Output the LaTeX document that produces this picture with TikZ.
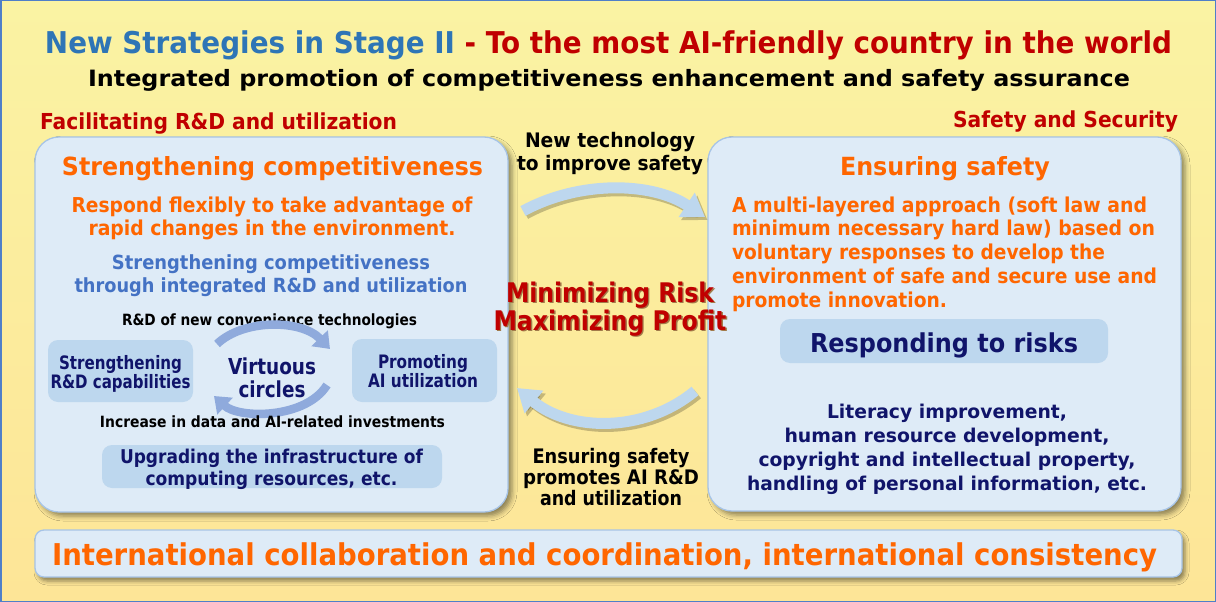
\documentclass[tikz,border=0pt]{standalone}
\usepackage{fontspec}
\setmainfont{DejaVu Sans}
\usepackage{graphicx}
\usetikzlibrary{arrows.meta,shadows.blur}

\definecolor{bgtop}{HTML}{FAF3A3}
\definecolor{bgbot}{HTML}{FDE597}
\definecolor{framecol}{HTML}{4F7FC8}
\definecolor{titleblue}{HTML}{2E75B6}
\definecolor{darkred}{HTML}{C00000}
\definecolor{redshade}{HTML}{A27A4A}
\definecolor{hotorange}{HTML}{FF6600}
\definecolor{midblue}{HTML}{4472C4}
\definecolor{navy}{HTML}{10146A}
\definecolor{boxfill}{HTML}{DEEBF7}
\definecolor{boxline}{HTML}{A7C4E6}
\definecolor{tilefill}{HTML}{BDD7EE}
\definecolor{cyclearrow}{HTML}{8FAADC}
\definecolor{bridgearrow}{HTML}{BDD7EE}

% set a line of text to an exact width by scaling it horizontally
\newsavebox\fitbox
\newcommand\fitw[2]{\sbox\fitbox{#2}\pgfmathsetmacro\fitratio{#1/\the\wd\fitbox}\scalebox{\fitratio}[1]{\usebox\fitbox}}
% stacked lines, baseline on the first line, fixed line pitch
\newcommand\cstack[1]{\vtop{\lineskiplimit=-1000pt\lineskip=0pt\halign{\hfil##\hfil\cr#1\crcr}}}
\newcommand\lstack[1]{\vtop{\lineskiplimit=-1000pt\lineskip=0pt\halign{##\hfil\cr#1\crcr}}}
\newcommand\fs[2]{\fontsize{#1}{#2}\selectfont}
% text with a soft offset shade behind it
\newcommand\shaded[1]{\rlap{\raisebox{-1.6pt}{\hspace{1.6pt}\textcolor{redshade}{#1}}}#1}

\begin{document}
\begin{tikzpicture}[x=1pt,y=-1pt,
  txt/.style={inner sep=0pt, outer sep=0pt, anchor=base},
  panel/.style={draw=boxline, line width=1.3pt, fill=boxfill, rounded corners=24pt,
    blur shadow={shadow xshift=4pt, shadow yshift=-4pt, shadow blur radius=5pt, shadow opacity=45}},
  band/.style={draw=boxline, line width=1.3pt, fill=boxfill, rounded corners=9pt,
    blur shadow={shadow xshift=3pt, shadow yshift=-4pt, shadow blur radius=4pt, shadow opacity=45}},
  tile/.style={fill=tilefill, rounded corners=10pt, inner sep=0pt},
  cycle/.style={draw=cyclearrow, line width=8.5pt, -{Triangle[width=22pt,length=15pt]}},
  bridge/.style={draw=bridgearrow, line width=11pt, -{Triangle[width=28pt,length=22pt]}},
  bridgeshadow/.style={draw=black, opacity=0.22, line width=11pt, -{Triangle[width=28pt,length=22pt]}},
]
\useasboundingbox (0,0) rectangle (1216,602);

% background
\shade[top color=bgtop, bottom color=bgbot] (0,0) rectangle (1216,602);
\draw[framecol, line width=1.5pt] (0.75,0.75) rectangle (1215.25,601.25);

% headings
\node[txt, font=\bfseries\fs{30}{34}] (title) at (608.5,54)
  {\fitw{1127}{\textcolor{titleblue}{New Strategies in Stage II} \textcolor{darkred}{- To the most AI-friendly country in the world}}};
\node[txt, font=\bfseries\fs{22.5}{26}] (subtitle) at (609,87)
  {\fitw{1042}{Integrated promotion of competitiveness enhancement and safety assurance}};
\node[txt, anchor=base west, text=darkred, font=\bfseries\fs{22}{26}] (leftlabel) at (40,129)
  {\fitw{357}{Facilitating R\&D and utilization}};
\node[txt, anchor=base east, text=darkred, font=\bfseries\fs{22}{26}] (rightlabel) at (1178,127)
  {\fitw{225}{Safety and Security}};

% panels
\node[panel, minimum width=473pt, minimum height=375pt] (leftpanel) at (271.5,324.5) {};
\node[panel, minimum width=473pt, minimum height=374pt] (rightpanel) at (944.5,324) {};
\node[band, minimum width=1147pt, minimum height=47pt] (bottomband) at (608.5,553.5) {};

% left panel
\node[txt, text=hotorange, font=\bfseries\fs{25}{30}] (lefthead) at (272.5,175)
  {\fitw{421}{Strengthening competitiveness}};
\node[txt, text=hotorange, font=\bfseries\fs{20.5}{23}] (leftlead) at (272,212)
  {\cstack{\fitw{401}{Respond flexibly to take advantage of}\cr\fitw{367}{rapid changes in the environment.}}};
\node[txt, text=midblue, font=\bfseries\fs{19.5}{23}] (leftsub) at (271,269)
  {\cstack{\fitw{318}{Strengthening competitiveness}\cr\fitw{393}{through integrated R\&D and utilization}}};
\node[txt, font=\bfseries\fs{15.5}{18}] (rdnew) at (269.5,325)
  {\fitw{295}{R\&D of new convenience technologies}};

\node[tile, minimum width=145pt, minimum height=62pt] (rdcap) at (120.5,371) {};
\node[txt, text=navy, font=\bfseries\fs{18.5}{19}] (rdcaptext) at (120.5,369)
  {\cstack{\fitw{123}{Strengthening}\cr\fitw{140}{R\&D capabilities}}};
\node[tile, minimum width=145pt, minimum height=63pt] (aiuse) at (424.5,370.5) {};
\node[txt, text=navy, font=\bfseries\fs{18.5}{19}] (aiusetext) at (423,368)
  {\cstack{\fitw{90}{Promoting}\cr\fitw{110}{AI utilization}}};

\node[txt, text=navy, font=\bfseries\fs{22}{23}] (virtuous) at (272,374)
  {\cstack{\fitw{88}{Virtuous}\cr\fitw{67}{circles}}};
\coordinate (cycA) at (217,344);
\coordinate (cycB) at (330,349);
\coordinate (cycC) at (327,385);
\coordinate (cycD) at (214,396);
\draw[cycle] (cycA) .. controls (243,319) and (301,319) .. (cycB);
\draw[cycle] (cycC) .. controls (306,419) and (239,419) .. (cycD);

\node[txt, font=\bfseries\fs{15.5}{18}] (invest) at (272.5,427)
  {\fitw{345}{Increase in data and AI-related investments}};
\node[tile, minimum width=340pt, minimum height=43pt] (infra) at (272,466.5) {};
\node[txt, text=navy, font=\bfseries\fs{19}{22}] (infratext) at (271.5,463)
  {\cstack{\fitw{303}{Upgrading the infrastructure of}\cr\fitw{252}{computing resources, etc.}}};

% centre column
\node[txt, font=\bfseries\fs{20}{23}] (newtech) at (610,147)
  {\cstack{\fitw{170}{New technology}\cr\fitw{186}{to improve safety}}};
\coordinate (upA) at (523,211);
\coordinate (upB) at (705,217);
\draw[bridgeshadow, transform canvas={xshift=2.5pt, yshift=-3pt}] (upA) .. controls (580,180) and (652,182) .. (upB);
\draw[bridge] (upA) .. controls (580,180) and (652,182) .. (upB);

\node[txt, text=darkred, font=\bfseries\fs{27}{28}] (profit) at (610,302)
  {\cstack{\fitw{208}{\shaded{Minimizing Risk}}\cr\fitw{233}{\shaded{Maximizing Profit}}}};

\coordinate (lowA) at (695,391);
\coordinate (lowB) at (517,388);
\draw[bridgeshadow, transform canvas={xshift=2.5pt, yshift=-3pt}] (lowA) .. controls (643,434) and (569,431) .. (lowB);
\draw[bridge] (lowA) .. controls (643,434) and (569,431) .. (lowB);

\node[txt, font=\bfseries\fs{20}{21}] (ensures) at (611,463)
  {\cstack{\fitw{157}{Ensuring safety}\cr\fitw{176}{promotes AI R\&D}\cr\fitw{142}{and utilization}}};

% right panel
\node[txt, text=hotorange, font=\bfseries\fs{25}{30}] (righthead) at (945,175)
  {\fitw{210}{Ensuring safety}};
\node[txt, anchor=base west, text=hotorange, font=\bfseries\fs{20.5}{23.75}] (rightlead) at (732,212)
  {\lstack{\fitw{415}{A multi-layered approach (soft law and}\cr
           \fitw{423}{minimum necessary hard law) based on}\cr
           \fitw{373}{voluntary responses to develop the}\cr
           \fitw{425}{environment of safe and secure use and}\cr
           \fitw{215}{promote innovation.}}};
\node[tile, minimum width=328pt, minimum height=44pt] (risks) at (944,341) {};
\node[txt, text=navy, font=\bfseries\fs{26}{30}] (riskstext) at (944,352)
  {\fitw{268}{Responding to risks}};
\node[txt, text=navy, font=\bfseries\fs{19}{24}] (measures) at (947,418)
  {\cstack{\fitw{240}{Literacy improvement,}\cr
           \fitw{325}{human resource development,}\cr
           \fitw{377}{copyright and intellectual property,}\cr
           \fitw{400}{handling of personal information, etc.}}};

% bottom band
\node[txt, text=hotorange, font=\bfseries\fs{30}{34}] (intl) at (604.5,565)
  {\fitw{1105}{International collaboration and coordination, international consistency}};
\end{tikzpicture}
\end{document}
